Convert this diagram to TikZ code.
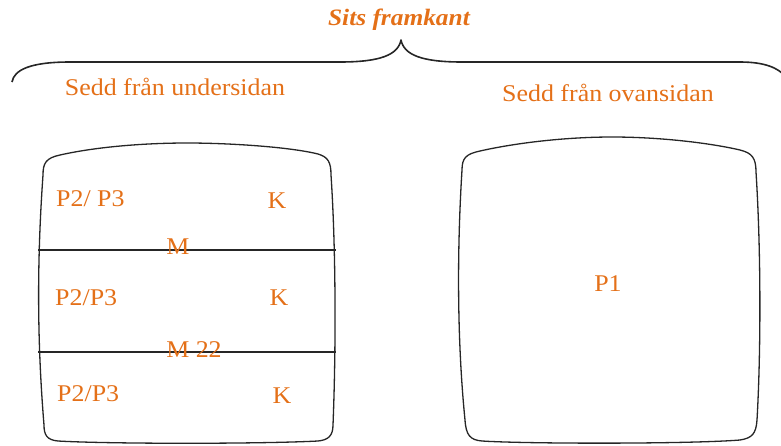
\documentclass[tikz,border=0pt]{standalone}
\usepackage{fontspec}
\setmainfont[FakeStretch=1.08]{Liberation Serif}
\definecolor{lbl}{RGB}{228,112,24}
\begin{document}
\begin{tikzpicture}[x=1pt,y=-1pt,
  outline/.style={draw=black!85,line width=1.3pt,line join=round},
  txt/.style={text=lbl,font=\fontsize{24}{28}\selectfont,inner sep=0pt,anchor=center},
  ttl/.style={text=lbl,font=\fontsize{23.5}{28}\selectfont\bfseries\itshape,inner sep=0pt,anchor=center}]
\useasboundingbox (0,0) rectangle (781,445);
\begin{scope}
\clip (0,0) rectangle (781,445);
% brace
\draw[outline,line width=1.6pt] (12,82) .. controls (14,70) and (30,62) .. (70,62) -- (340,62)
  .. controls (380,62) and (398,55) .. (401,40)
  .. controls (404,55) and (422,62) .. (462,62) -- (740,62)
  .. controls (765,62) and (778,68) .. (785,76);
% left box
\draw[outline] (43,175) .. controls (43,163) and (46,158) .. (60,155)
  .. controls (100,146) and (150,143) .. (187,143)
  .. controls (230,143) and (290,147) .. (318,154)
  .. controls (328,157) and (331,162) .. (331,175)
  .. controls (336,250) and (336,350) .. (333,425)
  .. controls (333,436) and (328,440) .. (318,441)
  .. controls (260,444) and (110,444) .. (58,441)
  .. controls (47,440) and (44,435) .. (44,425)
  .. controls (37,340) and (37,260) .. (43,175) -- cycle;
\coordinate (l1a) at (38,250); \coordinate (l1b) at (336,250);
\coordinate (l2a) at (38,352); \coordinate (l2b) at (336,352);
\draw[outline,line width=1.1pt] (l1a) -- (l1b);
\draw[outline,line width=1.1pt] (l2a) -- (l2b);
% right box
\draw[outline] (462,170) .. controls (462,158) and (466,154) .. (480,151)
  .. controls (520,142) and (570,137) .. (612,137)
  .. controls (660,137) and (710,143) .. (740,150)
  .. controls (752,153) and (756,158) .. (756,172)
  .. controls (761,250) and (761,350) .. (757,420)
  .. controls (756,434) and (752,438) .. (740,440)
  .. controls (690,444) and (530,444) .. (482,441)
  .. controls (470,440) and (466,435) .. (465,420)
  .. controls (457,340) and (457,250) .. (462,170) -- cycle;
\end{scope}
% texts
\node[ttl] (title) at (399,20) {Sits framkant};
\node[txt] (under) at (175,87) {Sedd från undersidan};
\node[txt] (ovan) at (608,93) {Sedd från ovansidan};
\node[txt,anchor=west] (p1) at (56,199) {P2/ P3};
\node[txt] (k1) at (277,201) {K};
\node[txt] (m1) at (178,247) {M};
\node[txt,anchor=west] (p2) at (55,298) {P2/P3};
\node[txt] (k2) at (279,298) {K};
\node[txt] (m2) at (194,350) {M 22};
\node[txt,anchor=west] (p3) at (57,394) {P2/P3};
\node[txt] (k3) at (282,396) {K};
\node[txt] (pone) at (608,284) {P1};
\end{tikzpicture}
\end{document}
